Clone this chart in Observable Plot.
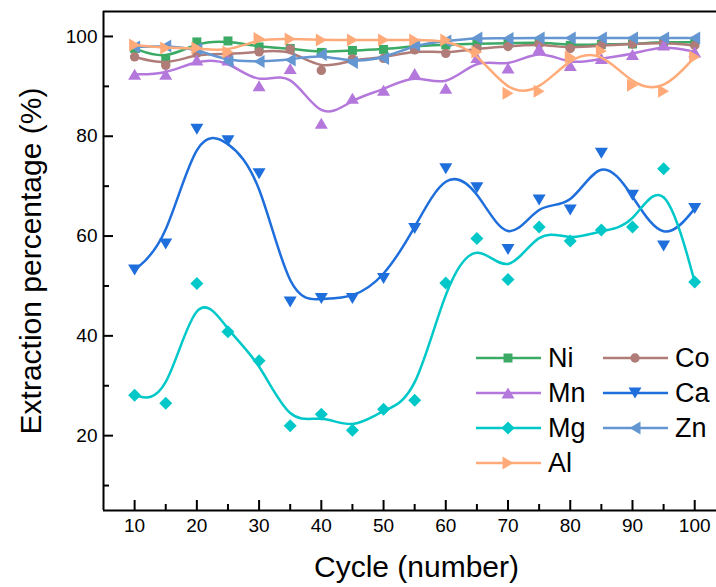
<!DOCTYPE html>
<html><head><meta charset="utf-8">
<script src="https://cdn.jsdelivr.net/npm/d3@7"></script>
<script src="https://cdn.jsdelivr.net/npm/@observablehq/plot@0.6"></script>
<style>
body{margin:0;background:#fff;}
#wrap{position:relative;width:716px;height:587px;font-family:"Liberation Sans",Arial,sans-serif;}
#legend{position:absolute;left:0;top:0;pointer-events:none;}
</style></head><body><div id="wrap"></div>
<script>
// ---- data ----
const cycles = [10,15,20,25,30,35,40,45,50,55,60,65,70,75,80,85,90,95,100];
const seriesNames = ["Ni","Co","Mn","Ca","Mg","Zn","Al"];
const seriesColors = ["#3aaa64","#b07c78","#b478dc","#1e6edc","#00c8c8","#6496d2","#ffaa78"];
const ni = [97.6,95.3,98.9,99.1,97.9,97.6,96.8,97.2,97.4,98.1,98.3,98.6,98.6,98.9,98.2,98.4,98.5,98.9,98.8];
const co = [95.9,94.2,96.6,96.4,96.9,97.5,93.2,95.5,95.6,97.3,96.6,97.6,98.0,98.5,97.6,98.2,98.5,98.8,98.2];
const mn = [92.4,92.4,95.3,95.3,90.1,93.6,82.6,87.6,89.2,92.6,89.6,95.8,93.7,97.6,94.2,95.6,96.4,98.3,96.9];
const ca = [53.2,58.4,81.4,79.1,72.5,46.8,47.5,47.5,51.5,61.5,73.5,69.7,57.3,67.2,65.2,76.6,68.2,58.0,65.5];
const mg = [28.1,26.5,50.5,40.8,35.0,22.0,24.3,21.1,25.3,27.1,50.6,59.5,51.3,61.8,59.0,61.2,61.8,73.5,50.8];
const zn = [97.9,98.1,97.5,95.0,95.0,95.3,96.4,94.8,95.6,98.3,99.1,99.7,99.6,99.7,99.7,99.7,99.7,99.7,99.7];
const al = [98.3,97.7,97.7,96.9,99.6,99.5,99.3,99.3,99.3,99.3,99.3,96.9,88.6,89.0,95.9,97.1,90.2,89.0,95.9];
const seriesValues = [ni,co,mn,ca,mg,zn,al];
const xTicks = [10,20,30,40,50,60,70,80,90,100];
const xMinor = [15,25,35,45,55,65,75,85,95];
const yTicks = [20,40,60,80,100];
const yMinor = [10,30,50,70,90];
const xDomain = [5,103.5];
const yDomain = [5,105];
const xTitle = "Cycle (number)";
const yTitle = "Extraction percentage (%)";

// ---- marker shapes ----
const poly = pts => ({draw(ctx){ctx.moveTo(pts[0][0],pts[0][1]);for(let k=1;k<pts.length;k++)ctx.lineTo(pts[k][0],pts[k][1]);ctx.closePath();}});
const symSquare = poly([[-4.5,-4.5],[4.5,-4.5],[4.5,4.5],[-4.5,4.5]]);
const symCircle = {draw(ctx){ctx.moveTo(4.7,0);ctx.arc(0,0,4.7,0,2*Math.PI);ctx.closePath();}};
const symUp = poly([[0,-5.5],[6.5,5.5],[-6.5,5.5]]);
const symDown = poly([[0,5.5],[6.5,-5.5],[-6.5,-5.5]]);
const symDiamond = poly([[0,-6.5],[6.5,0],[0,6.5],[-6.5,0]]);
const symLeft = poly([[-5.5,0],[5.5,-6.5],[5.5,6.5]]);
const symRight = poly([[5.5,0],[-5.5,-6.5],[-5.5,6.5]]);
const seriesSymbols = [symSquare,symCircle,symUp,symDown,symDiamond,symLeft,symRight];

const seriesMarks = [];
seriesNames.forEach((name,i)=>{
  const data = cycles.map((c,j)=>({series:name,cycle:c,value:seriesValues[i][j]}));
  seriesMarks.push(Plot.line(data,{x:"cycle",y:"value",stroke:seriesColors[i],strokeWidth:2.5,curve:"basis"}));
  seriesMarks.push(Plot.dot(data,{x:"cycle",y:"value",symbol:seriesSymbols[i],fill:seriesColors[i],stroke:"none"}));
});

const chart = Plot.plot({
  width:716, height:587,
  marginLeft:103, marginRight:0, marginTop:11, marginBottom:77,
  style:{fontFamily:'"Liberation Sans",Arial,sans-serif',fontSize:"19px",color:"black",background:"white"},
  x:{domain:xDomain},
  y:{domain:yDomain},
  marks:[
    ...seriesMarks,
    Plot.ruleY([yDomain[1]],{stroke:"black",strokeWidth:2}),
    Plot.ruleY([yDomain[0]],{stroke:"black",strokeWidth:2}),
    Plot.ruleX([xDomain[0]],{stroke:"black",strokeWidth:2}),
    Plot.axisX(xTicks,{tickSize:-10,tickPadding:18,strokeWidth:2,label:null,fontSize:19}),
    Plot.axisX(xMinor,{tickSize:-6,strokeWidth:2,tickFormat:()=>"",label:null}),
    Plot.axisY(yTicks,{tickSize:-10,tickPadding:16,strokeWidth:2,label:null,fontSize:19}),
    Plot.axisY(yMinor,{tickSize:-6,strokeWidth:2,tickFormat:()=>"",label:null}),
    Plot.text([yTitle],{frameAnchor:"left",textAnchor:"middle",rotate:-90,dx:-72,fontSize:30}),
    Plot.text([xTitle],{frameAnchor:"bottom",textAnchor:"middle",dx:6.5,dy:66,fontSize:30})
  ]
});
const wrap = document.getElementById("wrap");
wrap.appendChild(chart);

// ---- legend ----
const legendPos = [[476,358],[603,358],[476,393],[603,393],[476,428],[603,428],[476,463]];
const lg = d3.select(wrap).append("svg").attr("id","legend").attr("width",716).attr("height",587);
seriesNames.forEach((name,i)=>{
  const [x0,y0] = legendPos[i];
  const g = lg.append("g").attr("transform",`translate(${x0},${y0})`);
  g.append("line").attr("x1",0).attr("x2",65).attr("y1",0).attr("y2",0).attr("stroke",seriesColors[i]).attr("stroke-width",2.5);
  const p = d3.path(); seriesSymbols[i].draw(p);
  g.append("path").attr("d",p.toString()).attr("transform","translate(32,0)").attr("fill",seriesColors[i]);
  g.append("text").attr("x",72).attr("y",0).attr("dy","0.35em").attr("font-size",27)
    .attr("font-family",'"Liberation Sans",Arial,sans-serif').attr("fill","black").text(name);
});
</script></body></html>
